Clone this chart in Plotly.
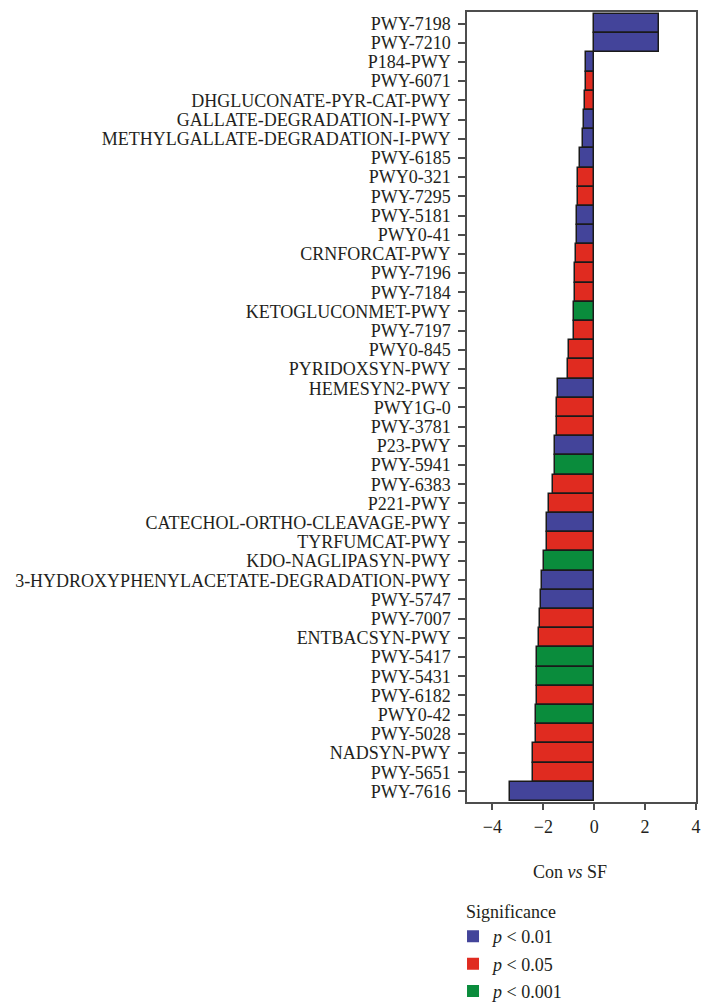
import plotly.graph_objects as go

# Pathways, top to bottom
pathways = [
    "PWY-7198", "PWY-7210", "P184-PWY", "PWY-6071", "DHGLUCONATE-PYR-CAT-PWY",
    "GALLATE-DEGRADATION-I-PWY", "METHYLGALLATE-DEGRADATION-I-PWY", "PWY-6185",
    "PWY0-321", "PWY-7295", "PWY-5181", "PWY0-41", "CRNFORCAT-PWY", "PWY-7196",
    "PWY-7184", "KETOGLUCONMET-PWY", "PWY-7197", "PWY0-845", "PYRIDOXSYN-PWY",
    "HEMESYN2-PWY", "PWY1G-0", "PWY-3781", "P23-PWY", "PWY-5941", "PWY-6383",
    "P221-PWY", "CATECHOL-ORTHO-CLEAVAGE-PWY", "TYRFUMCAT-PWY", "KDO-NAGLIPASYN-PWY",
    "3-HYDROXYPHENYLACETATE-DEGRADATION-PWY", "PWY-5747", "PWY-7007", "ENTBACSYN-PWY",
    "PWY-5417", "PWY-5431", "PWY-6182", "PWY0-42", "PWY-5028", "NADSYN-PWY",
    "PWY-5651", "PWY-7616",
]

# Effect values (Con vs SF)
values = [
    2.53, 2.53, -0.31, -0.34, -0.38,
    -0.39, -0.46, -0.54,
    -0.62, -0.63, -0.66, -0.68, -0.71, -0.74,
    -0.74, -0.78, -0.78, -1.00, -1.04,
    -1.44, -1.46, -1.48, -1.56, -1.56, -1.61,
    -1.77, -1.84, -1.84, -1.97,
    -2.07, -2.11, -2.14, -2.18,
    -2.23, -2.23, -2.23, -2.28, -2.28, -2.41,
    -2.41, -3.32,
]

# Significance level of each pathway
significance = [
    "0.01", "0.01", "0.01", "0.05", "0.05",
    "0.01", "0.01", "0.01",
    "0.05", "0.05", "0.01", "0.01", "0.05", "0.05",
    "0.05", "0.001", "0.05", "0.05", "0.05",
    "0.01", "0.05", "0.05", "0.01", "0.001", "0.05",
    "0.05", "0.01", "0.05", "0.001",
    "0.01", "0.01", "0.05", "0.05",
    "0.001", "0.001", "0.05", "0.001", "0.05", "0.05",
    "0.05", "0.01",
]

levels = ["0.01", "0.05", "0.001"]
level_colors = {"0.01": "#43449a", "0.05": "#e02b20", "0.001": "#0a8c3c"}

FONT = "Liberation Serif, Times New Roman, serif"
TEXT = "#231f20"
AXIS = "#4d4d4d"

fig = go.Figure()

fig.add_trace(go.Bar(
    x=values,
    y=pathways,
    orientation="h",
    marker=dict(
        color=[level_colors[s] for s in significance],
        line=dict(color="#1a1a1a", width=1.5),
    ),
    showlegend=False,
))

# Legend swatches
for lvl in levels:
    fig.add_trace(go.Bar(
        x=[None], y=[None],
        orientation="h",
        name=f"<i>p</i> &lt; {lvl}",
        marker=dict(color=level_colors[lvl], line=dict(width=0)),
        legendgroup=lvl,
    ))

fig.update_layout(
    width=702,
    height=1006,
    margin=dict(l=467, r=6, t=12, b=204, autoexpand=False),
    paper_bgcolor="white",
    plot_bgcolor="white",
    font=dict(family=FONT, size=18, color=TEXT),
    bargap=0,
    barmode="overlay",
    xaxis=dict(
        range=[-5, 4],
        tickvals=[-4, -2, 0, 2, 4],
        ticks="outside",
        ticklen=6,
        tickwidth=1.5,
        tickcolor=AXIS,
        showline=True,
        linecolor=AXIS,
        linewidth=1.5,
        mirror=True,
        showgrid=False,
        zeroline=False,
        automargin=False,
        tickfont=dict(size=18),
        ticklabelstandoff=2,
    ),
    yaxis=dict(
        categoryorder="array",
        categoryarray=pathways,
        range=[40.55, -0.6],
        tickmode="linear",
        tick0=0,
        dtick=1,
        ticks="outside",
        ticklen=7,
        tickwidth=1.5,
        tickcolor=AXIS,
        showline=True,
        linecolor=AXIS,
        linewidth=1.5,
        mirror=True,
        showgrid=False,
        zeroline=False,
        automargin=False,
        tickfont=dict(size=18),
        ticklabelstandoff=4,
    ),
    legend=dict(
        title=dict(text="Significance", font=dict(size=18)),
        x=-0.013,
        xanchor="left",
        y=-0.1173,
        yanchor="top",
        font=dict(size=18),
        indentation=-11,
        tracegroupgap=1,
        bgcolor="rgba(0,0,0,0)",
    ),
    annotations=[dict(
        text="Con <i>vs</i> SF",
        xref="paper", yref="paper",
        x=0.45, y=-0.0886,
        xanchor="center", yanchor="middle",
        showarrow=False,
        font=dict(size=18),
    )],
)

fig.write_html("out.html")
